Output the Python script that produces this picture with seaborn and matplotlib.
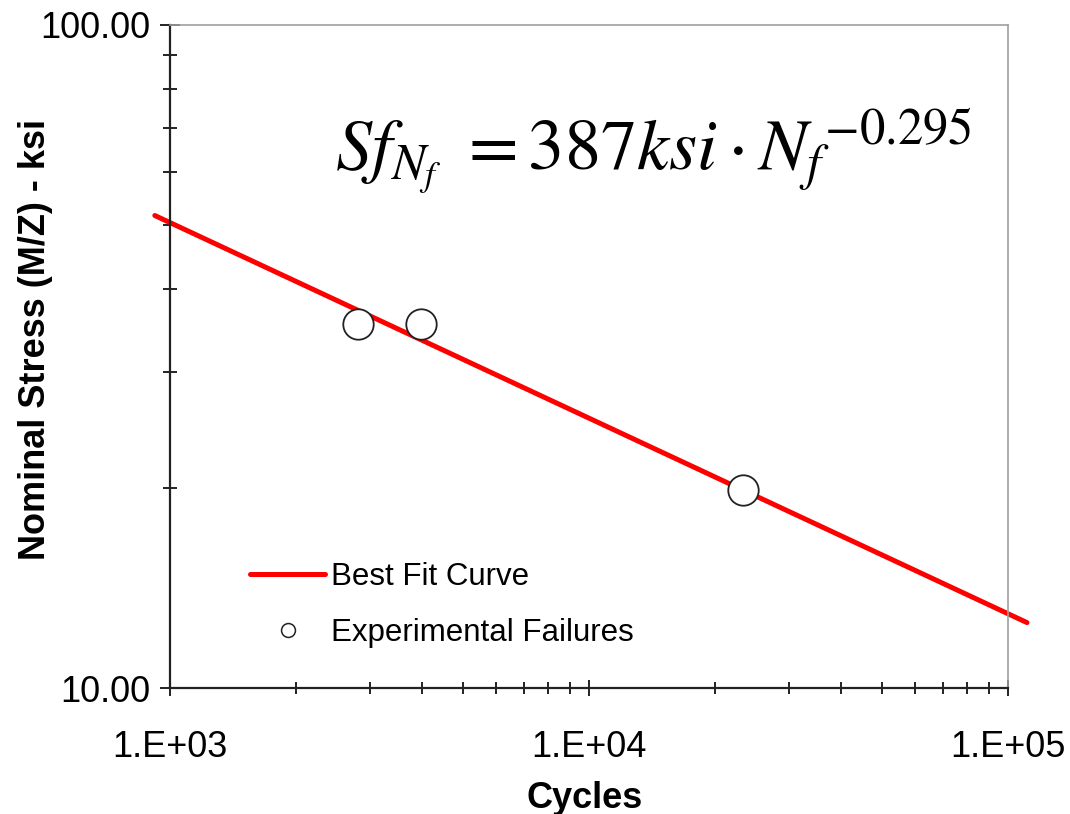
import matplotlib
matplotlib.use("Agg")
import matplotlib.pyplot as plt
from matplotlib.lines import Line2D
from matplotlib.ticker import FixedLocator, FixedFormatter, NullFormatter
import seaborn as sns
import pandas as pd

# best fit curve end points, power law -> straight in log-log
fit_cycles = [920, 111000]
fit_stress = [51.6, 12.55]

# experimental failures
exp_cycles = [2810, 3975, 23300]
exp_stress = [35.4, 35.4, 19.9]

x_major = [1e3, 1e4, 1e5]
x_labels = ["1.E+03", "1.E+04", "1.E+05"]
y_major = [10, 100]
y_labels = ["10.00", "100.00"]

sns.set_style("white")
plt.rcParams['font.family'] = ['Liberation Sans', 'DejaVu Sans']
plt.rcParams['mathtext.fontset'] = 'stix'
plt.rcParams['text.color'] = 'black'
plt.rcParams['axes.labelcolor'] = 'black'
plt.rcParams['xtick.color'] = 'black'
plt.rcParams['ytick.color'] = 'black'

fig = plt.figure(figsize=(10.70, 8.14), dpi=100)
ax = fig.add_axes([170/1070, 126/814, 838/1070, 663/814])

fit = pd.DataFrame({'cycles': fit_cycles, 'stress': fit_stress})
exp = pd.DataFrame({'cycles': exp_cycles, 'stress': exp_stress})

sns.lineplot(data=fit, x='cycles', y='stress', ax=ax, color='#ff0000', lw=3.6,
             clip_on=False, zorder=2)
sns.scatterplot(data=exp, x='cycles', y='stress', ax=ax, s=480, marker='o',
                facecolor='white', edgecolor='#222222', linewidth=1.3, zorder=3)

ax.set_xscale('log')
ax.set_yscale('log')
ax.set_xlim(1e3, 1e5)
ax.set_ylim(10, 100)

ax.xaxis.set_major_locator(FixedLocator(x_major))
ax.xaxis.set_major_formatter(FixedFormatter(x_labels))
ax.xaxis.set_minor_locator(FixedLocator([m * d for d in (1e3, 1e4) for m in range(2, 10)]))
ax.xaxis.set_minor_formatter(NullFormatter())
ax.yaxis.set_major_locator(FixedLocator(y_major))
ax.yaxis.set_major_formatter(FixedFormatter(y_labels))
ax.yaxis.set_minor_locator(FixedLocator([m * 10 for m in range(2, 10)]))
ax.yaxis.set_minor_formatter(NullFormatter())

ax.tick_params(axis='x', which='major', direction='inout', length=12, width=1.4,
               pad=24, labelsize=26, color='#222222', bottom=True)
ax.tick_params(axis='x', which='minor', direction='inout', length=9, width=1.4,
               color='#222222', bottom=True)
ax.tick_params(axis='y', which='major', direction='inout', length=14, width=1.4,
               pad=7, labelsize=26, color='#222222', left=True)
ax.tick_params(axis='y', which='minor', direction='inout', length=10, width=1.4,
               color='#222222', left=True)

for s in ['left', 'bottom']:
    ax.spines[s].set_color('#222222')
    ax.spines[s].set_linewidth(1.6)
for s in ['top', 'right']:
    ax.spines[s].set_color('#a0a0a0')
    ax.spines[s].set_linewidth(1.2)

ax.set_xlabel('Cycles', fontsize=26, fontweight='bold')
ax.set_ylabel('Nominal Stress (M/Z) - ksi', fontsize=26, fontweight='bold')
ax.xaxis.set_label_coords(0.495, -0.140)
ax.yaxis.set_label_coords(-0.140, 0.525)

handles = [Line2D([], [], color='#ff0000', lw=3.6),
           Line2D([], [], ls='none', marker='o', markersize=10,
                  markerfacecolor='white', markeredgecolor='#222222', markeredgewidth=1.1)]
fig.legend(handles, ['Best Fit Curve', 'Experimental Failures'],
           loc='center left', bbox_to_anchor=(250/1070, (814-605)/814),
           frameon=False, fontsize=22.5, handlelength=2.4, handletextpad=0.2,
           labelspacing=0.85, borderpad=0, borderaxespad=0)

fig.text(653/1070, (814-170)/814,
         r'$Sf_{N_f}\ = 387ksi\cdot {N_f}^{-0.295}$',
         fontsize=52, ha='center', va='baseline')

fig.savefig('out.png', dpi=100)
